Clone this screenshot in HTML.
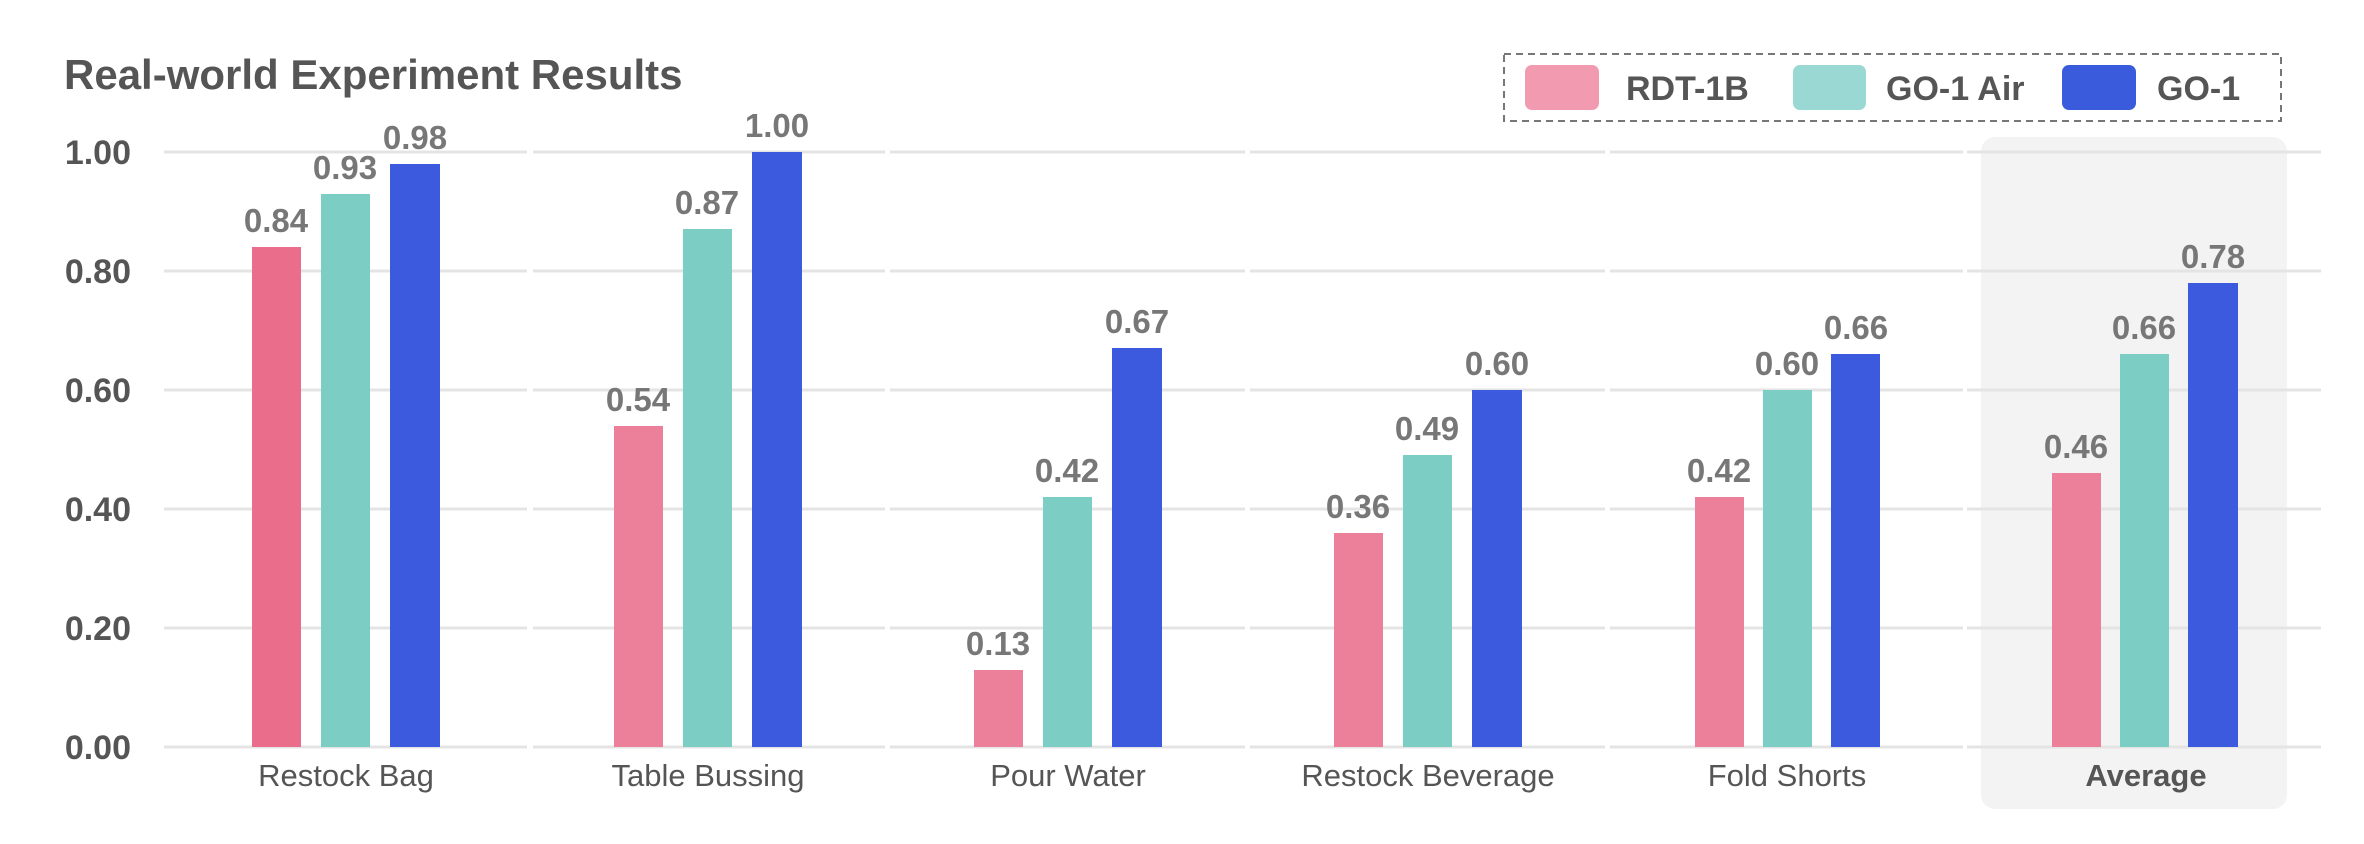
<!DOCTYPE html>
<html><head><meta charset="utf-8"><style>
html,body{margin:0;padding:0;background:#fff;}
svg{display:block;font-family:"Liberation Sans",sans-serif;}
</style></head><body>
<svg width="2364" height="844" viewBox="0 0 2364 844" xmlns="http://www.w3.org/2000/svg">
<rect x="1981" y="137" width="306" height="672" rx="14" fill="#f3f3f3"/>
<g stroke="#e4e4e4" stroke-width="3">
<path d="M164 152H527M164 271H527M164 390H527M164 509H527M164 628H527M164 747H527"/>
<path d="M533 152H885M533 271H885M533 390H885M533 509H885M533 628H885M533 747H885"/>
<path d="M890 152H1245M890 271H1245M890 390H1245M890 509H1245M890 628H1245M890 747H1245"/>
<path d="M1250 152H1605M1250 271H1605M1250 390H1605M1250 509H1605M1250 628H1605M1250 747H1605"/>
<path d="M1610 152H1963M1610 271H1963M1610 390H1963M1610 509H1963M1610 628H1963M1610 747H1963"/>
<path d="M1967 152H2321M1967 271H2321M1967 390H2321M1967 509H2321M1967 628H2321M1967 747H2321"/>
</g>
<text x="64" y="89" font-size="42" font-weight="bold" fill="#555">Real-world Experiment Results</text>
<g font-size="34" font-weight="bold" fill="#555" text-anchor="end">
<text x="131" y="164">1.00</text><text x="131" y="283">0.80</text><text x="131" y="402">0.60</text>
<text x="131" y="521">0.40</text><text x="131" y="640">0.20</text><text x="131" y="759">0.00</text>
</g>
<rect x="1504" y="54" width="777" height="67" fill="none" stroke="#777" stroke-width="2" stroke-dasharray="7,5"/>
<rect x="1525" y="65" width="74" height="45" rx="7" fill="#f29bb0"/>
<rect x="1793" y="65" width="73" height="45" rx="7" fill="#9ad8d3"/>
<rect x="2062" y="65" width="74" height="45" rx="7" fill="#3b5bdd"/>
<g font-size="34" font-weight="bold" fill="#555">
<text x="1626" y="100">RDT-1B</text><text x="1886" y="100">GO-1 Air</text><text x="2157" y="100">GO-1</text>
</g>
<g font-size="31" fill="#555" text-anchor="middle">
<text x="346" y="786">Restock Bag</text>
<text x="708" y="786">Table Bussing</text>
<text x="1068" y="786">Pour Water</text>
<text x="1428" y="786">Restock Beverage</text>
<text x="1787" y="786">Fold Shorts</text>
<text x="2146" y="786" font-weight="bold">Average</text>
</g>
<g>
<rect x="252" y="247" width="49" height="500" fill="#ea6e8c"/>
<rect x="321" y="194" width="49" height="553" fill="#7ccdc4"/>
<rect x="390" y="164" width="50" height="583" fill="#3c5ade"/>
<rect x="614" y="426" width="49" height="321" fill="#ec7f99"/>
<rect x="683" y="229" width="49" height="518" fill="#7ccdc4"/>
<rect x="752" y="152" width="50" height="595" fill="#3c5ade"/>
<rect x="974" y="670" width="49" height="77" fill="#ec7f99"/>
<rect x="1043" y="497" width="49" height="250" fill="#7ccdc4"/>
<rect x="1112" y="348" width="50" height="399" fill="#3c5ade"/>
<rect x="1334" y="533" width="49" height="214" fill="#ec7f99"/>
<rect x="1403" y="455" width="49" height="292" fill="#7ccdc4"/>
<rect x="1472" y="390" width="50" height="357" fill="#3c5ade"/>
<rect x="1695" y="497" width="49" height="250" fill="#ec7f99"/>
<rect x="1763" y="390" width="49" height="357" fill="#7ccdc4"/>
<rect x="1831" y="354" width="49" height="393" fill="#3c5ade"/>
<rect x="2052" y="473" width="49" height="274" fill="#ec7f99"/>
<rect x="2120" y="354" width="49" height="393" fill="#7ccdc4"/>
<rect x="2188" y="283" width="50" height="464" fill="#3c5ade"/>
</g>
<g font-size="33" font-weight="bold" fill="#777" text-anchor="middle">
<text x="276" y="232">0.84</text><text x="345" y="179">0.93</text><text x="415" y="149">0.98</text>
<text x="638" y="411">0.54</text><text x="707" y="214">0.87</text><text x="777" y="137">1.00</text>
<text x="998" y="655">0.13</text><text x="1067" y="482">0.42</text><text x="1137" y="333">0.67</text>
<text x="1358" y="518">0.36</text><text x="1427" y="440">0.49</text><text x="1497" y="375">0.60</text>
<text x="1719" y="482">0.42</text><text x="1787" y="375">0.60</text><text x="1856" y="339">0.66</text>
<text x="2076" y="458">0.46</text><text x="2144" y="339">0.66</text><text x="2213" y="268">0.78</text>
</g>
</svg>
</body></html>
